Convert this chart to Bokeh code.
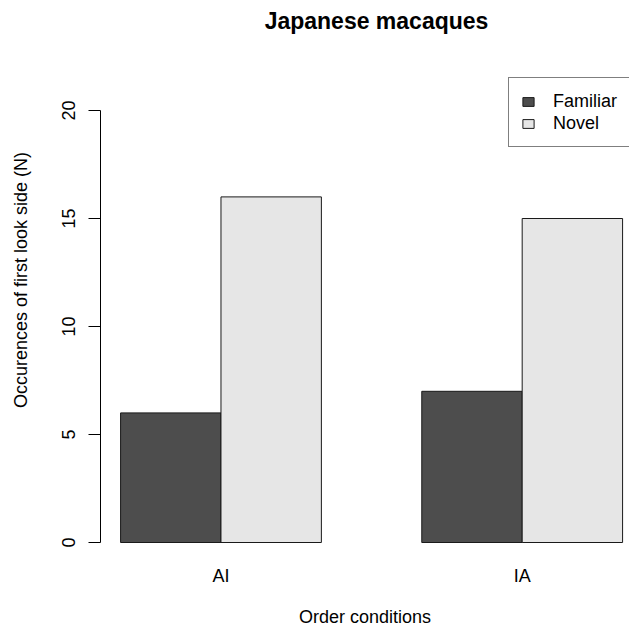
from bokeh.plotting import figure
from bokeh.models import (Range1d, FixedTicker, Legend, LegendItem, Label,
                          ColumnDataSource)
from bokeh.embed import file_html
from bokeh.resources import INLINE

# ---- data ----
conditions = ["AI", "IA"]
series = ["Familiar", "Novel"]
familiar = [6, 7]
novel = [16, 15]
y_ticks = [0, 5, 10, 15, 20]
colors = {"Familiar": "#4D4D4D", "Novel": "#E6E6E6"}

FONT = "Liberation Sans"

W = H = 629
LEFT, BOTTOM = 100, 70          # border sizes (px)
X0, XPX = 0.8, 100.4            # data x at frame left, px per x unit
Y0PX, YPX = 542.0, 21.6         # pixel row of y=0, px per y unit
frame_w = W - LEFT
frame_bottom = H - BOTTOM
x_end = X0 + frame_w / XPX
y_start = -(frame_bottom - Y0PX) / YPX
y_end = Y0PX / YPX              # frame reaches the top of the figure

def px_to_x(px):
    return X0 + (px - LEFT) / XPX

def py_to_y(py):
    return (Y0PX - py) / YPX

p = figure(width=W, height=H, output_backend="svg", toolbar_location=None,
           x_range=Range1d(X0, x_end), y_range=Range1d(y_start, y_end),
           min_border_left=LEFT, min_border_right=0, min_border_top=0,
           min_border_bottom=BOTTOM)
p.outline_line_color = None
p.xgrid.visible = False
p.ygrid.visible = False

# bar positions like R barplot(beside=TRUE): width 1, space c(0,1)
renderers = {}
for s_idx, (name, vals) in enumerate(zip(series, [familiar, novel])):
    lefts = [1 + g * 3 + s_idx for g in range(len(conditions))]
    src = ColumnDataSource(dict(left=lefts, right=[l + 1 for l in lefts],
                                top=vals, bottom=[0] * len(vals)))
    r = p.quad(left="left", right="right", top="top", bottom="bottom",
               source=src, fill_color=colors[name], line_color="#1a1a1a",
               line_width=1)
    renderers[name] = r

# title (drawn inside the top of the frame)
p.add_layout(Label(x=px_to_x(376), y=py_to_y(20), text="Japanese macaques",
                   text_align="center", text_baseline="alphabetic",
                   text_font=FONT, text_font_size="23px",
                   text_font_style="bold", text_color="black"))

# y axis
ya = p.yaxis[0]
ya.ticker = FixedTicker(ticks=y_ticks)
ya.bounds = (0, 20)
ya.axis_line_color = "black"
ya.major_tick_line_color = "black"
ya.major_tick_out = 12
ya.major_tick_in = 0
ya.minor_tick_line_color = None
ya.major_label_orientation = "vertical"
ya.major_label_standoff = 14
ya.major_label_text_font = FONT
ya.major_label_text_font_size = "18px"
ya.major_label_text_color = "black"
ya.axis_label = "Occurences of first look side (N)"
ya.axis_label_text_font = FONT
ya.axis_label_text_font_size = "18px"
ya.axis_label_text_font_style = "normal"
ya.axis_label_text_color = "black"
ya.axis_label_standoff = 28

# x axis
xa = p.xaxis[0]
group_centers = [2 + g * 3 for g in range(len(conditions))]
xa.ticker = FixedTicker(ticks=group_centers)
xa.major_label_overrides = {c: lab for c, lab in zip(group_centers, conditions)}
xa.axis_line_color = None
xa.major_tick_line_color = None
xa.minor_tick_line_color = None
xa.major_tick_out = 0
xa.major_tick_in = 0
xa.major_label_standoff = 6
xa.major_label_text_font = FONT
xa.major_label_text_font_size = "18px"
xa.major_label_text_color = "black"
xa.axis_label = "Order conditions"
xa.axis_label_text_font = FONT
xa.axis_label_text_font_size = "18px"
xa.axis_label_text_font_style = "normal"
xa.axis_label_text_color = "black"
xa.axis_label_standoff = 18

# legend
legend = Legend(items=[LegendItem(label=n, renderers=[renderers[n]]) for n in series],
                location=(408, 412), margin=0, padding=12, spacing=0,
                glyph_width=14, glyph_height=11, label_height=22,
                label_width=64, label_standoff=18,
                label_text_font=FONT, label_text_font_size="18px",
                label_text_color="black",
                border_line_color="black", border_line_width=1,
                background_fill_alpha=1)
p.add_layout(legend, "center")

open("out.html", "w").write(file_html(p, INLINE))
